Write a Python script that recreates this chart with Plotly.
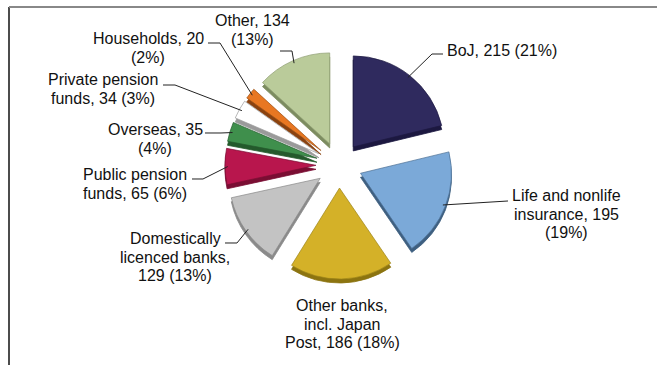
import math
import plotly.graph_objects as go

# ---- data ----
categories = ["BoJ", "Life and nonlife insurance", "Other banks, incl. Japan Post",
              "Domestically licenced banks", "Public pension funds", "Overseas",
              "Private pension funds", "Households", "Other"]
values = [215, 195, 186, 129, 65, 35, 34, 20, 134]
label_lines = [["BoJ, 215 (21%)"],
               ["Life and nonlife", "insurance, 195", "(19%)"],
               ["Other banks,", "incl. Japan", "Post, 186 (18%)"],
               ["Domestically", "licenced banks,", "129 (13%)"],
               ["Public pension", "funds, 65 (6%)"],
               ["Overseas, 35", "(4%)"],
               ["Private pension", "funds, 34 (3%)"],
               ["Households, 20", "(2%)"],
               ["Other, 134", "(13%)"]]

# ---- styles / layout ----
W, H = 657, 365
top_colors = ["#2F2A5E", "#7BA9D8", "#D4B128", "#C3C3C3", "#B8164D",
              "#3F8F4C", "#FFFFFF", "#E87722", "#BACB9A"]
side_colors = ["#1C1840", "#3E5F80", "#8C7410", "#8A8A8A", "#7A0E33",
               "#245A2C", "#9A9A9A", "#8A4210", "#7C8C60"]
edge_colors = ["#1C1840", "#4A6E94", "#9C8418", "#8A8A8A", "#7A0E33",
               "#245A2C", "#9A9A9A", "#9A5218", "#8C9C70"]
PULL = 0.253
CX, CY = 339, 165          # pie centre in pixels
R = 91                     # pie radius in pixels
BOX = R * (1 + PULL)
SHADOW = 4
LINE_H = 18.5
FONT = dict(family="Liberation Sans, Arial", size=16, color="#111111")

# label positions (pixel centre of text block) and leader elbows
label_pos = [(502, 51), (566, 214), (342, 324), (175, 257), (135, 184),
             (155, 139), (103, 89), (148, 48), (252, 30)]
leader_elbow = [[(443, 54), (432, 54)],
                [(508, 201)],
                None,
                [(225, 243), (237, 243)],
                [(192, 179), (203, 179)],
                [(205, 133), (221, 133)],
                [(163, 85), (175, 85)],
                [(208, 43), (220, 43)],
                [(280, 51), (292, 51)]]


def px(x):
    return x / W


def py(y):
    return 1 - y / H


xdom = [px(CX - BOX), px(CX + BOX)]
ydom = [py(CY + BOX), py(CY - BOX)]
ydom_sh = [py(CY + BOX + SHADOW), py(CY - BOX + SHADOW)]

fig = go.Figure()
fig.add_trace(go.Pie(
    values=values, labels=categories, sort=False, direction="clockwise",
    rotation=0, pull=[PULL] * len(values), textinfo="none", hoverinfo="skip",
    marker=dict(colors=side_colors, line=dict(color=side_colors, width=0.8)),
    domain=dict(x=xdom, y=ydom_sh), showlegend=False))
fig.add_trace(go.Pie(
    values=values, labels=categories, sort=False, direction="clockwise",
    rotation=0, pull=[PULL] * len(values), textinfo="none",
    hovertemplate="%{label}: %{value} (%{percent})<extra></extra>",
    marker=dict(colors=top_colors, line=dict(color=edge_colors, width=0.7)),
    domain=dict(x=xdom, y=ydom), showlegend=False))

total = sum(values)
shapes = []
annotations = []
cum = 0
for i, v in enumerate(values):
    mid = (cum + v / 2) / total * 2 * math.pi
    cum += v
    dx, dy = math.sin(mid), -math.cos(mid)
    ex = CX + dx * (PULL * R + 0.97 * R)
    ey = CY + dy * (PULL * R + 0.97 * R)
    lx, ly = label_pos[i]
    lines = label_lines[i]
    n = len(lines)
    for k, t in enumerate(lines):
        yy = ly + (k - (n - 1) / 2) * LINE_H
        annotations.append(dict(x=px(lx), y=py(yy), xref="paper", yref="paper",
                                text=t, showarrow=False, xanchor="center",
                                yanchor="middle", align="center", font=FONT))
    if leader_elbow[i]:
        pts = leader_elbow[i] + [(ex, ey)]
        path = "M " + " L ".join(f"{px(a):.5f},{py(b):.5f}" for a, b in pts)
        shapes.append(dict(type="path", path=path, xref="paper", yref="paper",
                           line=dict(color="#222222", width=1)))

# frame lines
shapes.append(dict(type="line", xref="paper", yref="paper", x0=px(9), x1=px(9),
                   y0=py(7), y1=0, line=dict(color="#111111", width=1.5)))
shapes.append(dict(type="line", xref="paper", yref="paper", x0=px(9), x1=1,
                   y0=py(7), y1=py(7), line=dict(color="#888888", width=2)))

fig.update_layout(width=W, height=H, margin=dict(l=0, r=0, t=0, b=0),
                  paper_bgcolor="white", plot_bgcolor="white",
                  shapes=shapes, annotations=annotations)
fig.write_html("out.html", config={"displayModeBar": False},
               post_script="document.body.style.margin='0';"
                           "document.body.style.overflow='hidden';")
